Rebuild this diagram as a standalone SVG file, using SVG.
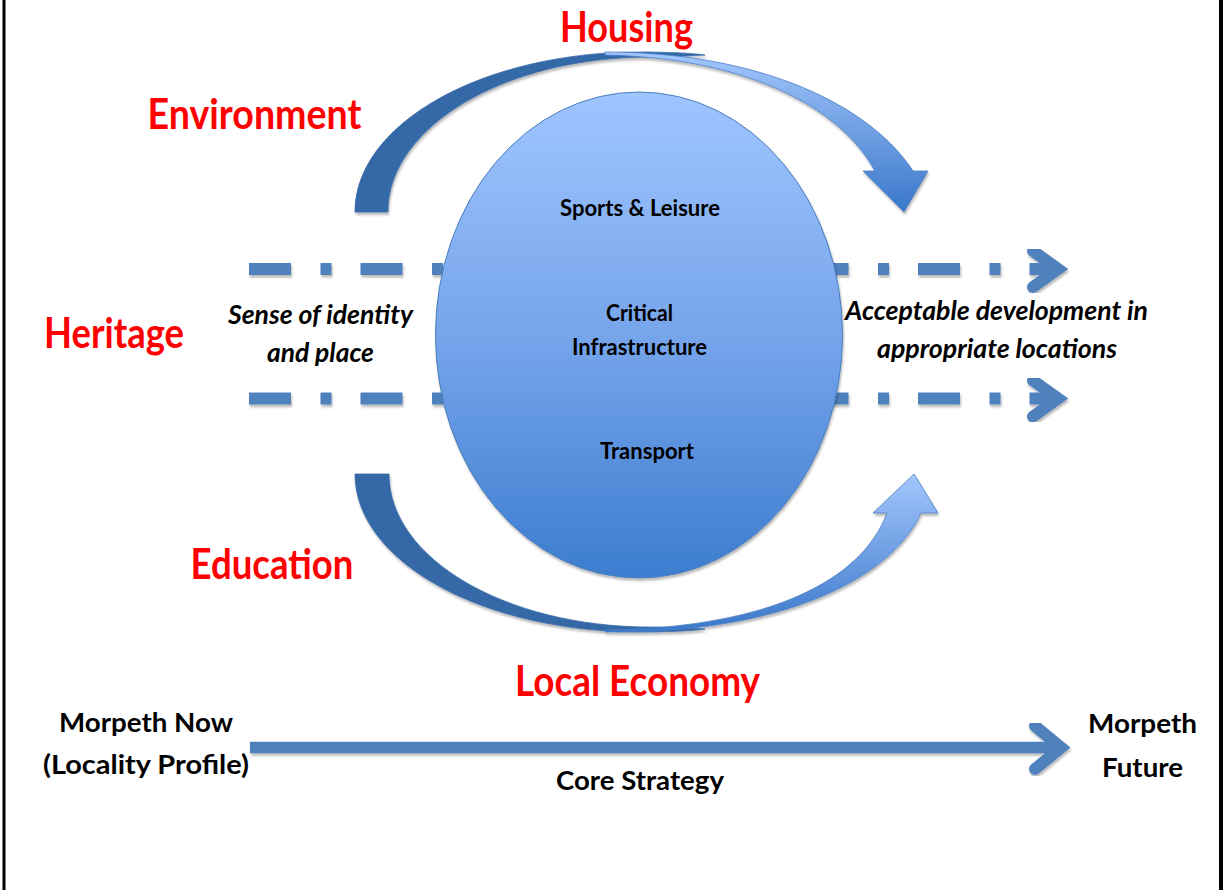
<svg xmlns="http://www.w3.org/2000/svg" width="1225" height="890" viewBox="0 0 1225 890">
<defs>
<linearGradient id="gEll" x1="0" y1="0" x2="0" y2="1">
<stop offset="0" stop-color="#9fc5ff"/>
<stop offset="0.5" stop-color="#76a5eb"/>
<stop offset="1" stop-color="#3d7dcf"/>
</linearGradient>
<linearGradient id="gTop" gradientUnits="userSpaceOnUse" x1="0" y1="52" x2="0" y2="212">
<stop offset="0" stop-color="#a3c7fd"/>
<stop offset="1" stop-color="#3a77c9"/>
</linearGradient>
<linearGradient id="gBot" gradientUnits="userSpaceOnUse" x1="0" y1="632" x2="0" y2="474">
<stop offset="0" stop-color="#3a77c9"/>
<stop offset="1" stop-color="#a3c7fd"/>
</linearGradient>
<filter id="sh" x="-5%" y="-5%" width="110%" height="120%">
<feDropShadow dx="1" dy="2.5" stdDeviation="1" flood-color="#000" flood-opacity="0.28"/>
</filter>
</defs>
<style>
.red{font-family:Lato,"Liberation Sans",sans-serif;font-weight:bold;font-size:42px;fill:#ff0000}
.lbl{font-family:Lato,"Liberation Sans",sans-serif;font-weight:bold;fill:#000}
.in{font-size:23px}
.big{font-size:26.5px}
.it{font-size:26px;font-style:italic}
.dash{fill:none;stroke:#4f81bd;stroke-width:12;stroke-dasharray:42 29.5 11 29}
.chev{fill:none;stroke:#4f81bd;stroke-width:12;stroke-linecap:round;stroke-linejoin:miter;stroke-miterlimit:10}
.back{fill:#3467a6;stroke:#3a6cab;stroke-width:0.8}
.border{stroke:#000;stroke-width:3}
</style>
<rect width="1225" height="890" fill="#fff"/>
<line class="border" x1="4" y1="0" x2="4" y2="890"/>
<line class="border" x1="1221" y1="0" x2="1221" y2="890" style="stroke-width:4"/>

<g id="connectors">
<g id="arc-top" filter="url(#sh)">
<path class="back" d="M355,212 C355,123.6 482.6,52 640,52 C665,52 690,53 705,55 C690,56 665,57 650,57 C505.3,57 388,126.4 388,212 Z"/>
<path fill="url(#gTop)" stroke="#4a7fc4" stroke-width="0.8" d="M605,52 C760,52 870,105 913,171 L928,171 L904,212 L863,171 L875,171 C842,110 752,58 605,55 Z"/>
</g>
<g id="arc-bottom" filter="url(#sh)">
<path class="back" d="M355,474 C355,561.3 482.6,632 640,632 C665,632 690,631 705,629 C690,628 665,627 650,627 C505.9,627 389,558.5 389,474 Z"/>
<path fill="url(#gBot)" stroke="#4a7fc4" stroke-width="0.8" d="M605,632 C780,634 890,580 921,513 L938,513 L914,474 L873,513 L887,513 C862,580 770,628 605,630 Z"/>
</g>
<g id="dash-top" filter="url(#sh)">
<path class="dash" d="M249,269 L1060,269"/>
<polyline class="chev" points="1033,251 1058,269 1033,287"/>
</g>
<g id="dash-bottom" filter="url(#sh)">
<path class="dash" d="M249,398.5 L1060,398.5"/>
<polyline class="chev" points="1033,380.5 1058,398.5 1033,416.5"/>
</g>
<g id="timeline" filter="url(#sh)">
<line x1="250" y1="747.5" x2="1062" y2="747.5" stroke="#4f81bd" stroke-width="11.5"/>
<polyline class="chev" points="1035,726 1061,747.5 1035,769"/>
</g>
</g>

<g id="node-core" filter="url(#sh)">
<ellipse cx="639" cy="335" rx="203.5" ry="243" fill="url(#gEll)" stroke="#4a7ebb" stroke-width="1"/>
</g>
<g id="core-labels">
<text class="lbl in" x="560" y="216" textLength="160" lengthAdjust="spacingAndGlyphs">Sports &amp; Leisure</text>
<text class="lbl in" x="606" y="321" textLength="67" lengthAdjust="spacingAndGlyphs">Critical</text>
<text class="lbl in" x="572" y="355" textLength="135" lengthAdjust="spacingAndGlyphs">Infrastructure</text>
<text class="lbl in" x="600" y="459" textLength="94" lengthAdjust="spacingAndGlyphs">Transport</text>
</g>

<g id="node-housing"><text class="red" x="560" y="42" textLength="133" lengthAdjust="spacingAndGlyphs">Housing</text></g>
<g id="node-environment"><text class="red" x="147.5" y="128.5" textLength="214" lengthAdjust="spacingAndGlyphs">Environment</text></g>
<g id="node-heritage"><text class="red" x="44" y="348" textLength="140" lengthAdjust="spacingAndGlyphs">Heritage</text></g>
<g id="node-education"><text class="red" x="190.5" y="578.5" textLength="163" lengthAdjust="spacingAndGlyphs">Education</text></g>
<g id="node-economy"><text class="red" x="515" y="696" textLength="245" lengthAdjust="spacingAndGlyphs">Local Economy</text></g>

<g id="node-identity">
<text class="lbl it" x="228" y="324" textLength="185" lengthAdjust="spacingAndGlyphs">Sense of identity</text>
<text class="lbl it" x="267" y="362" textLength="107" lengthAdjust="spacingAndGlyphs">and place</text>
</g>
<g id="node-development">
<text class="lbl it" x="845" y="320" textLength="303" lengthAdjust="spacingAndGlyphs">Acceptable development in</text>
<text class="lbl it" x="877" y="358" textLength="240" lengthAdjust="spacingAndGlyphs">appropriate locations</text>
</g>
<g id="node-now">
<text class="lbl big" x="59" y="732" textLength="174" lengthAdjust="spacingAndGlyphs">Morpeth Now</text>
<text class="lbl big" x="43" y="774" textLength="206" lengthAdjust="spacingAndGlyphs">(Locality Profile)</text>
</g>
<g id="node-strategy">
<text class="lbl big" x="556" y="790" textLength="168" lengthAdjust="spacingAndGlyphs">Core Strategy</text>
</g>
<g id="node-future">
<text class="lbl big" x="1088" y="733" textLength="109" lengthAdjust="spacingAndGlyphs">Morpeth</text>
<text class="lbl big" x="1102" y="777" textLength="81" lengthAdjust="spacingAndGlyphs">Future</text>
</g>
</svg>
